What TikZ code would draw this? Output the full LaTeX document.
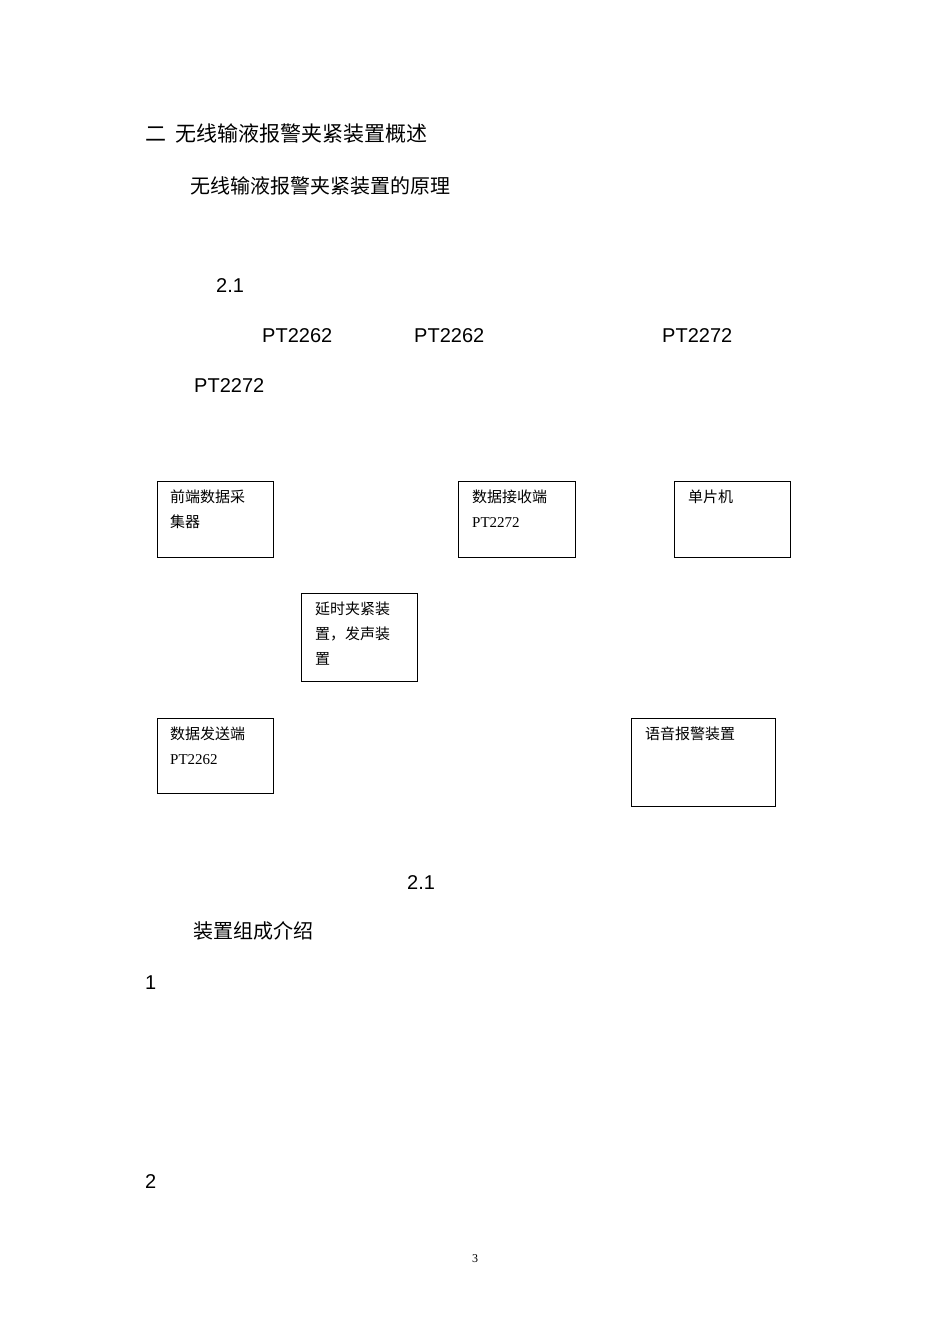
\documentclass[tikz,border=0pt]{standalone}
\usepackage{fontspec}
\setmainfont{Liberation Sans}
\newfontfamily\cjk{Noto Sans CJK SC}
\newfontfamily\tms{Liberation Serif}
\begin{document}
\begin{tikzpicture}[x=1pt,y=-1pt,
  t/.style={anchor=west,inner sep=0pt},
  h/.style={t,font=\cjk\fontsize{20}{24}\selectfont},
  a/.style={t,font=\fontsize{20}{24}\selectfont},
  bx/.style={draw,line width=0.8pt},
  bt/.style={t,anchor=north west,align=left,font=\cjk\fontsize{15}{25}\selectfont}]
\useasboundingbox (0,0) rectangle (950,1344);
\node[h,font=\cjk\fontsize{21}{24}\selectfont] (h1) at (145,134) {二\ \ 无线输液报警夹紧装置概述};
\node[h] (h2) at (190,186) {无线输液报警夹紧装置的原理};
\node[a] (n1) at (216,286) {2.1};
\node[a] (p1) at (262,336) {PT2262};
\node[a] (p2) at (414,336) {PT2262};
\node[a] (p3) at (662,336) {PT2272};
\node[a] (p4) at (194,386) {PT2272};
\draw[bx] (157,481) rectangle (273,557);
\node[bt] (b1) at (170,490) {前端数据采\\集器};
\draw[bx] (458,481) rectangle (575,557);
\node[bt] (b2) at (472,490) {数据接收端\\{\tms PT2272}};
\draw[bx] (674,481) rectangle (790,557);
\node[bt] (b3) at (688,490) {单片机};
\draw[bx] (301,593) rectangle (417,681);
\node[bt] (b4) at (315,602) {延时夹紧装\\置，发声装\\置};
\draw[bx] (157,718) rectangle (273,793);
\node[bt] (b5) at (170,727) {数据发送端\\{\tms PT2262}};
\draw[bx] (631,718) rectangle (775,806);
\node[bt] (b6) at (645,727) {语音报警装置};
\node[a] (n2) at (407,883) {2.1};
\node[h] (h3) at (193,931) {装置组成介绍};
\node[a] (c1) at (145,983) {1};
\node[a] (c2) at (145,1182) {2};
\node[t,font=\tms\fontsize{12}{14}\selectfont] (pg) at (472,1259) {3};
\end{tikzpicture}
\end{document}
